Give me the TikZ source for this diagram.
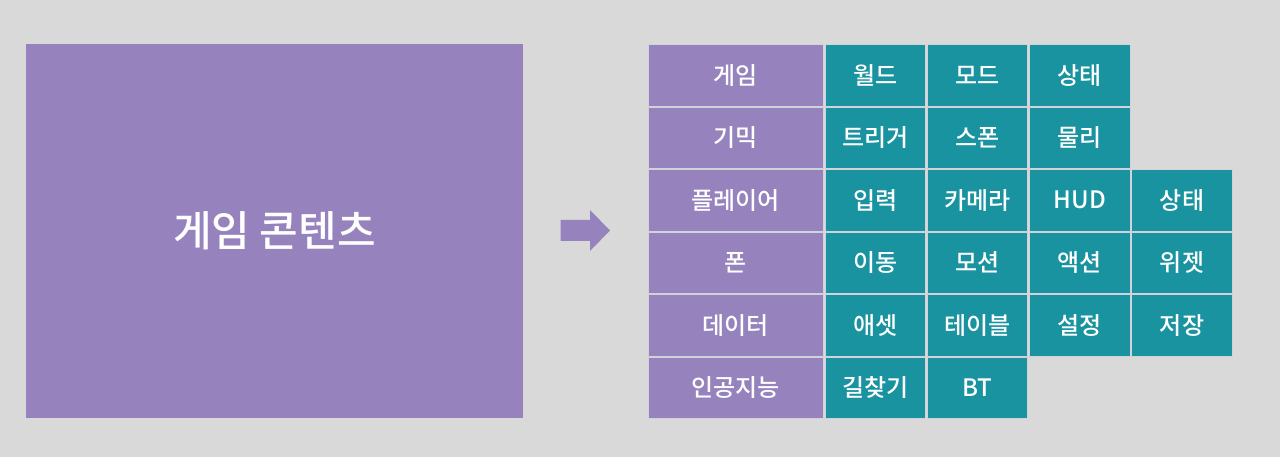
\documentclass[tikz,border=0pt]{standalone}
\usepackage{fontspec}
\setmainfont{Noto Sans CJK KR}[UprightFont=* Medium]
\definecolor{bg}{HTML}{D9D9D9}
\definecolor{purp}{HTML}{9683BE}
\definecolor{teal2}{HTML}{1A93A0}
\definecolor{edge}{HTML}{D2D2DA}
\begin{document}
\begin{tikzpicture}[x=1pt,y=-1pt,
  cell/.style={draw=edge,line width=0.9pt,inner sep=0pt,outer sep=0pt,anchor=north west,
    minimum height=61.5pt,text=white,font=\fontsize{24}{24}\selectfont},
  head/.style={cell,fill=purp,minimum width=175pt},
  item/.style={cell,fill=teal2,minimum width=100.5pt}]
\fill[bg] (0,0) rectangle (1280,457);
\useasboundingbox (0,0) rectangle (1280,457);
\node[fill=purp,inner sep=0pt,outer sep=0pt,anchor=north west,minimum width=497pt,minimum height=374pt,
  text=white,font=\fontsize{42}{42}\selectfont] (big) at (26,44) {게임 콘텐츠};
\fill[purp] (560.7,220) -- (590,220) -- (590,210) -- (610,230.5) -- (590,251) -- (590,241) -- (560.7,241) -- cycle;
% rows
\node[head] (h1) at (648,44.5) {게임};
\node[item] (c11) at (825,44.5) {월드};
\node[item] (c12) at (927.25,44.5) {모드};
\node[item] (c13) at (1029.5,44.5) {상태};
\node[head] (h2) at (648,107) {기믹};
\node[item] (c21) at (825,107) {트리거};
\node[item] (c22) at (927.25,107) {스폰};
\node[item] (c23) at (1029.5,107) {물리};
\node[head] (h3) at (648,169.5) {플레이어};
\node[item] (c31) at (825,169.5) {입력};
\node[item] (c32) at (927.25,169.5) {카메라};
\node[item] (c33) at (1029.5,169.5) {HUD};
\node[item] (c34) at (1131.75,169.5) {상태};
\node[head] (h4) at (648,232) {폰};
\node[item] (c41) at (825,232) {이동};
\node[item] (c42) at (927.25,232) {모션};
\node[item] (c43) at (1029.5,232) {액션};
\node[item] (c44) at (1131.75,232) {위젯};
\node[head] (h5) at (648,294.5) {데이터};
\node[item] (c51) at (825,294.5) {애셋};
\node[item] (c52) at (927.25,294.5) {테이블};
\node[item] (c53) at (1029.5,294.5) {설정};
\node[item] (c54) at (1131.75,294.5) {저장};
\node[head] (h6) at (648,357) {인공지능};
\node[item] (c61) at (825,357) {길찾기};
\node[item] (c62) at (927.25,357) {BT};
\end{tikzpicture}
\end{document}
